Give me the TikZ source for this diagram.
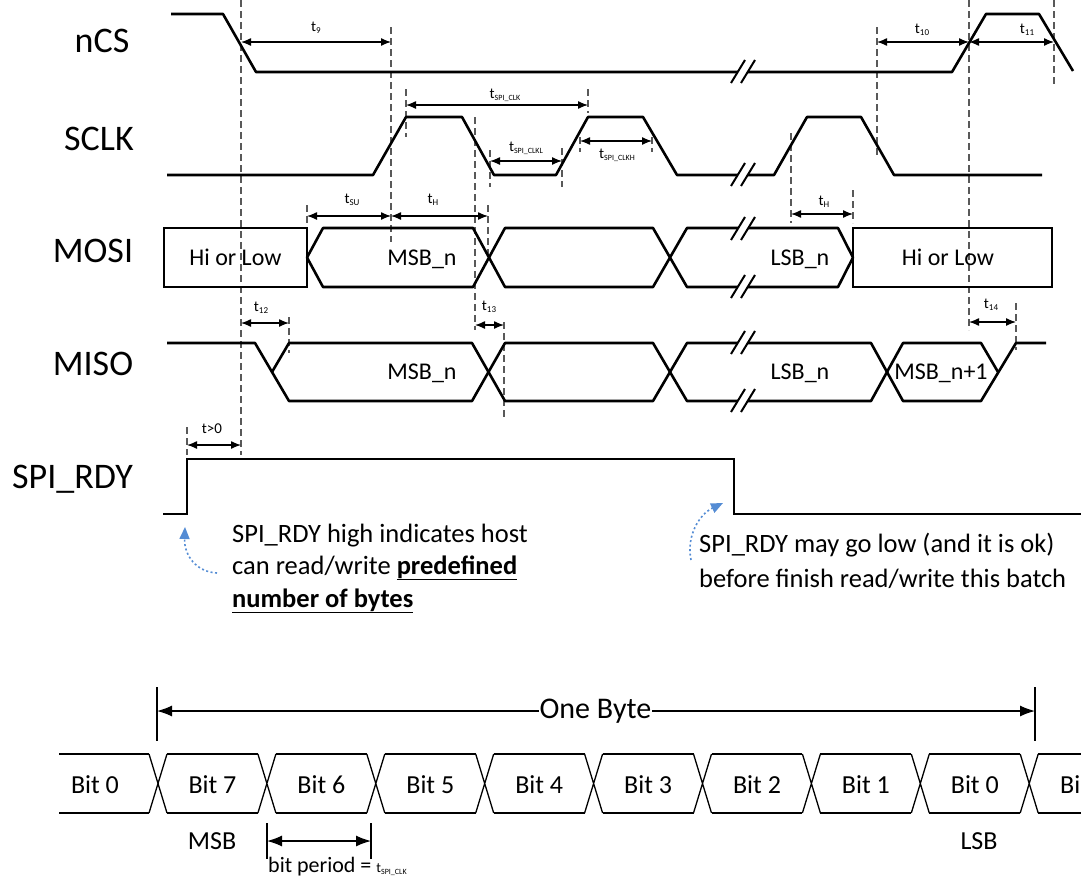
\documentclass[tikz,border=0pt]{standalone}
\usepackage{fontspec}
\setmainfont{Carlito}
\usetikzlibrary{arrows.meta}
\definecolor{noteblue}{RGB}{84,140,212}
\newcommand{\tsub}[2][9]{t\raisebox{-0.3ex}{\fontsize{#1}{#1}\selectfont #2}}
\newcommand{\brk}[1]{%
  \fill[white] (731,#1+11)--(745,#1-12)--(755,#1-12)--(741,#1+11)--cycle;
  \draw[line width=2pt] (731,#1+11)--(745,#1-12) (741,#1+11)--(755,#1-12);}
\begin{document}
\begin{tikzpicture}[x=1pt,y=-1pt,
  sig/.style={line width=2.6pt, line join=round},
  boxl/.style={line width=1.8pt},
  vdash/.style={draw=black!65, line width=1.4pt, dash pattern=on 7pt off 4pt},
  dim/.style={{Latex[length=10pt,width=8pt]}-{Latex[length=10pt,width=8pt]}, line width=1.3pt},
  bigdim/.style={{Latex[length=15pt,width=11pt]}-{Latex[length=15pt,width=11pt]}, line width=1.3pt},
  big/.style={font=\fontsize{36}{40}\selectfont, inner sep=0, anchor=base},
  txt/.style={font=\fontsize{26.5}{30}\selectfont, inner sep=0, anchor=base west},
  dat/.style={font=\fontsize{24}{28}\selectfont, inner sep=0, anchor=base},
  bitt/.style={font=\fontsize{26}{28}\selectfont, inner sep=0, anchor=base},
  tl/.style={font=\fontsize{15}{16}\selectfont, inner sep=0},
  thinl/.style={line width=1.3pt},
  note/.style={noteblue, line width=1.6pt, dash pattern=on 2pt off 2.5pt, -{Triangle[length=12pt,width=10pt]}}]
\useasboundingbox (0,0) rectangle (1081,881);
\clip (0,0) rectangle (1081,881);

% signal names
\node[big] (lncs) at (102,52) {nCS};
\node[big] (lsclk) at (99,150) {SCLK};
\node[big] (lmosi) at (93,262) {MOSI};
\node[big] (lmiso) at (93,375) {MISO};
\node[big] (lrdy) at (72.5,488) {SPI\_RDY};

% dashed guide lines
\foreach \x/\a/\b in {241/0/455, 391/27/242, 406/89/137, 475/117/330, 490/150/187,
  562/148/187, 588/89/113, 877/27/155, 969/0/330, 1054/0/85, 791/133/223, 853/190/223,
  307/205/223, 488/205/257, 289/317/353, 504/322/420, 1016/303/350, 187/427/455,
  580/137/152, 652/137/152}
  \draw[vdash] (\x,\a)--(\x,\b);

% nCS
\draw[sig] (171,14)--(223,14)--(256,72)--(952,72)--(986,14)--(1039,14)--(1073,71);
\brk{72}
% SCLK
\draw[sig] (167,175)--(373,175)--(406,117)--(462,117)--(494,175)--(556,175)--(588,117)
  --(643,117)--(677,175)--(774,175)--(807,117)--(861,117)--(894,175)--(1042,175);
\brk{175}
% MOSI
\draw[boxl] (164,228) rectangle (307,287);
\draw[sig] (307,257.5)--(323,228)--(473,228)--(505,287)--(653,287)--(687,228)--(838,228)
  --(853,257.5)--(838,287)--(687,287)--(653,228)--(505,228)--(473,287)--(323,287)--cycle;
\draw[boxl] (853,228) rectangle (1052,287);
\brk{229}
\brk{287}
\node[dat] (t1) at (235.5,265) {Hi or Low};
\node[dat] (t2) at (422,265) {MSB\_n};
\node[dat] (t3) at (800,265) {LSB\_n};
\node[dat] (t4) at (948,265) {Hi or Low};
% MISO
\draw[sig] (167,343)--(255,343)--(289,401)--(472,401)--(505,343)--(653,343)--(687,401)
  --(871,401)--(903,343)--(981,343)--(998,372);
\draw[sig] (272,372)--(289,343)--(472,343)--(505,401)--(653,401)--(687,343)--(871,343)
  --(903,401)--(981,401)--(1016,343)--(1046,343);
\brk{343}
\brk{401}
\node[dat] (t5) at (422,379) {MSB\_n};
\node[dat] (t6) at (800,379) {LSB\_n};
\node[dat] (t7) at (941,379) {MSB\_n+1};
% SPI_RDY
\draw[line width=2.4pt] (163,514)--(187,514)--(187,459)--(734,459)--(734,514)--(1085,514);

% dimension arrows
\draw[dim] (241,42)--(391,42);   \node[tl] (d1) at (316,28) {\tsub{9}};
\draw[dim] (406,105)--(588,105); \node[tl] (d2) at (505,95) {\tsub[8]{SPI\_CLK}};
\draw[dim] (490,161)--(562,161); \node[tl] (d3) at (526,148) {\tsub[8]{SPI\_CLKL}};
\draw[dim] (580,141)--(652,141); \node[tl] (d4) at (617,155) {\tsub[8]{SPI\_CLKH}};
\draw[dim] (877,42)--(969,42);   \node[tl] (d5) at (922,30) {\tsub{10}};
\draw[dim] (969,42)--(1054,42);  \node[tl] (d6) at (1027,30) {\tsub{11}};
\draw[dim] (307,216)--(391,216); \node[tl] (d7) at (352,200) {\tsub{SU}};
\draw[dim] (391,216)--(488,216); \node[tl] (d8) at (433,200) {\tsub{H}};
\draw[dim] (791,214)--(853,214); \node[tl] (d9) at (824,202) {\tsub{H}};
\draw[dim] (241,323)--(289,323); \node[tl] (d10) at (261,308) {\tsub{12}};
\draw[dim] (475,325)--(504,325); \node[tl] (d11) at (489,307) {\tsub{13}};
\draw[dim] (969,322)--(1016,322); \node[tl] (d12) at (991,305) {\tsub{14}};
\draw[dim] (187,445)--(241,445); \node[tl] (d13) at (212,429) {t>0};

% notes
\node[txt] (n1) at (232,542) {SPI\_RDY high indicates host};
\node[txt] (n2) at (232,574) {can read/write \underline{\textbf{predefined}}};
\node[txt] (n3) at (232,607) {\underline{\textbf{number of bytes}}};
\draw[note] (217,573) .. controls (196,572) and (184,555) .. (185,527);
\node[txt] (n4) at (699,552) {SPI\_RDY may go low (and it is ok)};
\node[txt] (n5) at (699,587) {before finish read/write this batch};
\draw[note] (691,560) .. controls (686,535) and (700,514) .. (723,503);

% byte diagram
\draw[thinl] (157,687)--(157,741) (1035,687)--(1035,741);
\draw[bigdim] (157,711)--(1035,711);
\node[font=\fontsize{30}{32}\selectfont, fill=white, inner sep=1pt] (ob) at (595.5,711) {One Byte};
\draw[thinl] (59,754)--(149,754) (59,813)--(149,813);
\foreach \k in {0,...,8} {
  \pgfmathsetmacro\c{158+108.9*\k}
  \draw[thinl] (\c-9,754)--(\c+9,813) (\c-9,813)--(\c+9,754);
  \pgfmathsetmacro\d{158+108.9*(\k+1)}
  \draw[thinl] (\c+9,754)--(\d-9,754) (\c+9,813)--(\d-9,813);
}
\node[bitt] (b0) at (95,793) {Bit 0};
\foreach \t [count=\i from 0] in {Bit 7,Bit 6,Bit 5,Bit 4,Bit 3,Bit 2,Bit 1,Bit 0}
  \node[bitt] (bb\i) at (212.5+108.9*\i,793) {\t};
\node[bitt, anchor=base west] (bl) at (1060,793) {Bi};
\node[bitt] (msb) at (212,849) {MSB};
\node[bitt] (lsb) at (979,849) {LSB};
\draw[thinl] (267,823)--(267,859) (371,823)--(371,859);
\draw[bigdim] (267,841)--(371,841);
\node[font=\fontsize{22}{24}\selectfont, inner sep=0, anchor=base west] (bp) at (268,872)
  {bit period = {\fontsize{14}{14}\selectfont t\raisebox{-0.3ex}{\fontsize{8}{8}\selectfont SPI\_CLK}}};
\end{tikzpicture}
\end{document}
